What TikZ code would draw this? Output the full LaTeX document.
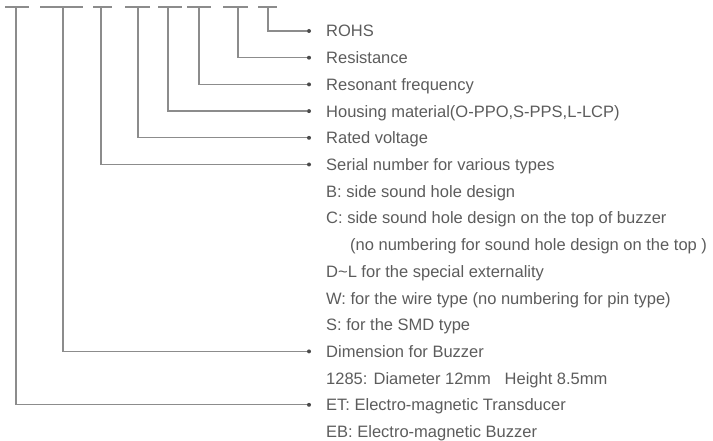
\documentclass[tikz,border=0pt]{standalone}
\usepackage{fontspec}
\setmainfont{Liberation Sans}
\usepackage{tikz}
\usetikzlibrary{positioning}
\definecolor{leadgray}{RGB}{140,140,140}
\definecolor{txtgray}{RGB}{92,92,92}
\definecolor{pingray}{RGB}{75,75,75}
\tikzset{
  lbl/.style={anchor=base west, inner sep=0pt, text=txtgray,
              font=\fontsize{16.5}{19}\selectfont},
  pin/.style={circle, fill=pingray, inner sep=0pt, minimum size=4pt},
  lead/.style={draw=leadgray, line width=1.3pt},
}
\begin{document}
\begin{tikzpicture}[x=1pt, y=-1pt]
    \useasboundingbox (0,0) rectangle (713,441);
    % blanks of the part number, one tick per field
    \foreach \a/\b/\c [count=\i] in {5/29/16, 40/83/63, 93/112/101, 125/150/138,
                                     158/182/168, 187/211/199, 223/248/238, 258/277/268} {
      \draw[lead] (\a,7) -- (\b,7);
      \coordinate (t\i) at (\c,7);
    }
    % end points of the leads
    \node[pin] (p-rohs)  at (309,31)    {};
    \node[pin] (p-res)   at (309,57.7)  {};
    \node[pin] (p-freq)  at (309,84.4)  {};
    \node[pin] (p-house) at (309,111.1) {};
    \node[pin] (p-volt)  at (309,137.8) {};
    \node[pin] (p-ser)   at (309,164.5) {};
    \node[pin] (p-dim)   at (309,351.4) {};
    \node[pin] (p-type)  at (309,404.8) {};
    % texts
    \node[lbl] (rohs)  at (326,37)    {ROHS};
    \node[lbl] (res)   at (326,63.7)  {Resistance};
    \node[lbl] (freq)  at (326,90.4)  {Resonant frequency};
    \node[lbl] (house) at (326,117.1) {Housing material(O-PPO,S-PPS,L-LCP)};
    \node[lbl] (volt)  at (326,143.8) {Rated voltage};
    \node[lbl] (ser)   at (326,170.5) {Serial number for various types};
    \node[lbl] (serb)  at (326,197.2) {B: side sound hole design};
    \node[lbl] (serc)  at (326,223.9) {C: side sound hole design on the top of buzzer};
    \node[lbl] (sercn) at (350,250.6) {(no numbering for sound hole design on the top )};
    \node[lbl] (serd)  at (326,277.3) {D\textasciitilde L for the special externality};
    \node[lbl] (serw)  at (326,304)   {W: for the wire type (no numbering for pin type)};
    \node[lbl] (sers)  at (326,330.7) {S: for the SMD type};
    \node[lbl] (dim)   at (326,357.4) {Dimension for Buzzer};
    \node[lbl] (dimx)  at (326,384.1) {1285: Diameter 12mm\ \ \ Height 8.5mm};
    \node[lbl] (type)  at (326,410.8) {ET: Electro-magnetic Transducer};
    \node[lbl] (typeb) at (326,437.5) {EB: Electro-magnetic Buzzer};
    % leads from the ticks
    \draw[lead] (t8) |- (p-rohs);
    \draw[lead] (t7) |- (p-res);
    \draw[lead] (t6) |- (p-freq);
    \draw[lead] (t5) |- (p-house);
    \draw[lead] (t4) |- (p-volt);
    \draw[lead] (t3) |- (p-ser);
    \draw[lead] (t2) |- (p-dim);
    \draw[lead] (t1) |- (p-type);
\end{tikzpicture}
\end{document}
